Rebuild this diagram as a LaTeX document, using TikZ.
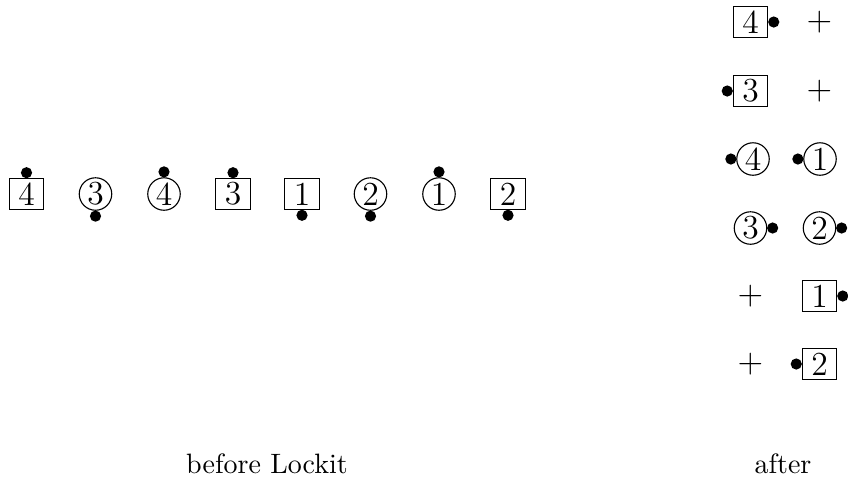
\documentclass[tikz,border=0pt]{standalone}
\begin{document}
\begin{tikzpicture}[x=0.357pt,y=-0.357pt,
  sq/.style={draw,rectangle,line width=0.4pt,inner sep=0pt,minimum width=12.4pt,minimum height=11pt,font=\large},
  cr/.style={draw,circle,line width=0.4pt,inner sep=0pt,minimum size=11.6pt,font=\large},
  dot/.style={circle,fill=black,inner sep=0pt,minimum size=4pt},
  pl/.style={inner sep=0pt,font=\large},
  lbl/.style={inner sep=0pt}]
\useasboundingbox (0,0) rectangle (848,485);
% row before
\node[sq] (a1) at (26.5,194) {4};
\node[cr] (a2) at (95.5,194) {3};
\node[cr] (a3) at (164,194) {4};
\node[sq] (a4) at (233,194) {3};
\node[sq] (a5) at (302,194) {1};
\node[cr] (a6) at (370.5,194) {2};
\node[cr] (a7) at (439,194) {1};
\node[sq] (a8) at (508,194) {2};
\node[dot,above=-0.3pt] (d1) at (a1.north) {};
\node[dot,below=-0.3pt] (d2) at (a2.south) {};
\node[dot,above=-0.3pt] (d3) at (a3.north) {};
\node[dot,above=-0.3pt] (d4) at (a4.north) {};
\node[dot,below=-0.3pt] (d5) at (a5.south) {};
\node[dot,below=-0.3pt] (d6) at (a6.south) {};
\node[dot,above=-0.3pt] (d7) at (a7.north) {};
\node[dot,below=-0.3pt] (d8) at (a8.south) {};
% after
\node[sq] (r1) at (750.5,22) {4};
\node[dot,right=-0.3pt] (e1) at (r1.east) {};
\node[pl] (p1) at (819.5,22) {$+$};
\node[sq] (r2) at (750.5,91) {3};
\node[dot,left=-0.3pt] (e2) at (r2.west) {};
\node[pl] (p2) at (819.5,91) {$+$};
\node[cr] (r3) at (753,159) {4};
\node[dot,left=-0.3pt] (e3) at (r3.west) {};
\node[cr] (r4) at (820,159) {1};
\node[dot,left=-0.3pt] (e4) at (r4.west) {};
\node[cr] (r5) at (750.5,228) {3};
\node[dot,right=-0.3pt] (e5) at (r5.east) {};
\node[cr] (r6) at (819.5,228) {2};
\node[dot,right=-0.3pt] (e6) at (r6.east) {};
\node[pl] (p3) at (750.5,296) {$+$};
\node[sq] (r7) at (819.5,296) {1};
\node[dot,right=-0.3pt] (e7) at (r7.east) {};
\node[pl] (p4) at (750.5,364) {$+$};
\node[sq] (r8) at (819.5,364) {2};
\node[dot,left=-0.3pt] (e8) at (r8.west) {};
% labels
\node[lbl] (L1) at (267,464) {before Lockit};
\node[lbl] (L2) at (783,464) {after};
\end{tikzpicture}
\end{document}
